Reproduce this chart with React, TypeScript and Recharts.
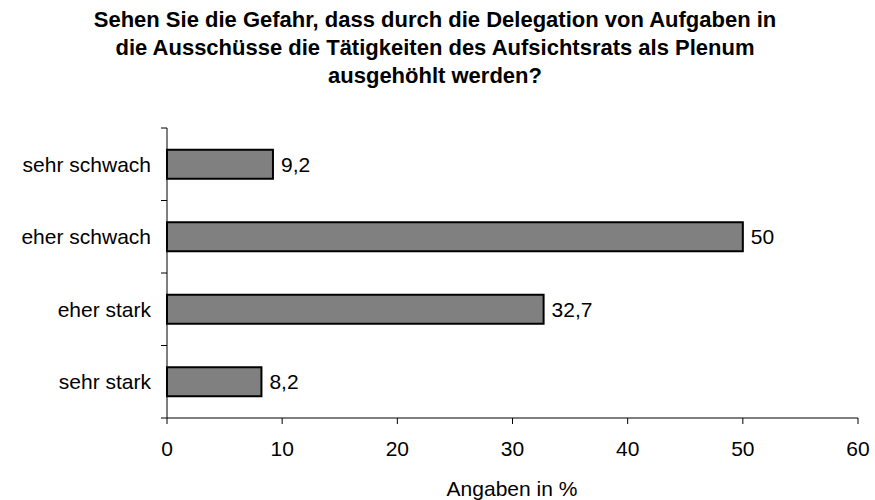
import { BarChart, Bar, XAxis, YAxis, LabelList } from "recharts";

const categories = ["sehr schwach", "eher schwach", "eher stark", "sehr stark"];
const values = [9.2, 50, 32.7, 8.2];
const xTicks = [0, 10, 20, 30, 40, 50, 60];

const data = categories.map((name, i) => ({ name, value: values[i] }));

const FONT = "Liberation Sans, Arial, sans-serif";
const PLOT_TOP = 128;
const PLOT_H = 290;
const BAND = PLOT_H / categories.length;

// category label plus small tick marks at band boundaries
const CategoryTick = (props: any) => {
  const { x, y, payload, index } = props;
  const axisX = x + 8;
  return (
    <g>
      <text x={x - 8} y={y} textAnchor="end" dominantBaseline="central" fontSize={21} fill="#000" fontFamily={FONT}>
        {payload.value}
      </text>
      <line x1={axisX - 6} x2={axisX} y1={y - BAND / 2} y2={y - BAND / 2} stroke="#000" strokeWidth={1} />
      {index === categories.length - 1 && (
        <line x1={axisX - 6} x2={axisX} y1={y + BAND / 2} y2={y + BAND / 2} stroke="#000" strokeWidth={1} />
      )}
    </g>
  );
};

const fmt = (v: number) => String(v).replace(".", ",");

const App = () => (
  <div style={{ position: "absolute", left: 0, top: 0, width: 875, height: 500, background: "#fff" }}>
    <div style={{ position: "absolute", left: 0, top: 0 }}>
      <BarChart
        width={875}
        height={500}
        data={data}
        layout="vertical"
        margin={{ top: PLOT_TOP, right: 17, bottom: 0, left: 0 }}
        barCategoryGap="30%"
      >
        <XAxis
          type="number"
          domain={[0, 60]}
          ticks={xTicks}
          interval={0}
          axisLine={{ stroke: "#000" }}
          tickLine={{ stroke: "#000" }}
          tickSize={6}
          tick={{ fill: "#000", fontSize: 21, fontFamily: FONT, dy: 15 }}
          height={82}
        />
        <YAxis
          type="category"
          dataKey="name"
          width={167}
          axisLine={{ stroke: "#000" }}
          tickLine={false}
          tick={<CategoryTick />}
        />
        <Bar dataKey="value" fill="#808080" stroke="#000" strokeWidth={2} isAnimationActive={false}>
          <LabelList dataKey="value" position="right" offset={8} formatter={(v: any) => fmt(Number(v))} fill="#000" fontSize={21} fontFamily={FONT} />
        </Bar>
      </BarChart>
    </div>
    <svg width={875} height={500} style={{ position: "absolute", left: 0, top: 0, pointerEvents: "none" }}>
      <text textAnchor="middle" fontFamily={FONT} fontWeight="bold" fontSize={22} fill="#000">
        <tspan x={435} y={27}>Sehen Sie die Gefahr, dass durch die Delegation von Aufgaben in</tspan>
        <tspan x={435} y={55}>die Ausschüsse die Tätigkeiten des Aufsichtsrats als Plenum</tspan>
        <tspan x={435} y={83}>ausgehöhlt werden?</tspan>
      </text>
      <text x={512} y={496} textAnchor="middle" fontFamily={FONT} fontSize={21} fill="#000">
        Angaben in %
      </text>
    </svg>
  </div>
);

export default App;
